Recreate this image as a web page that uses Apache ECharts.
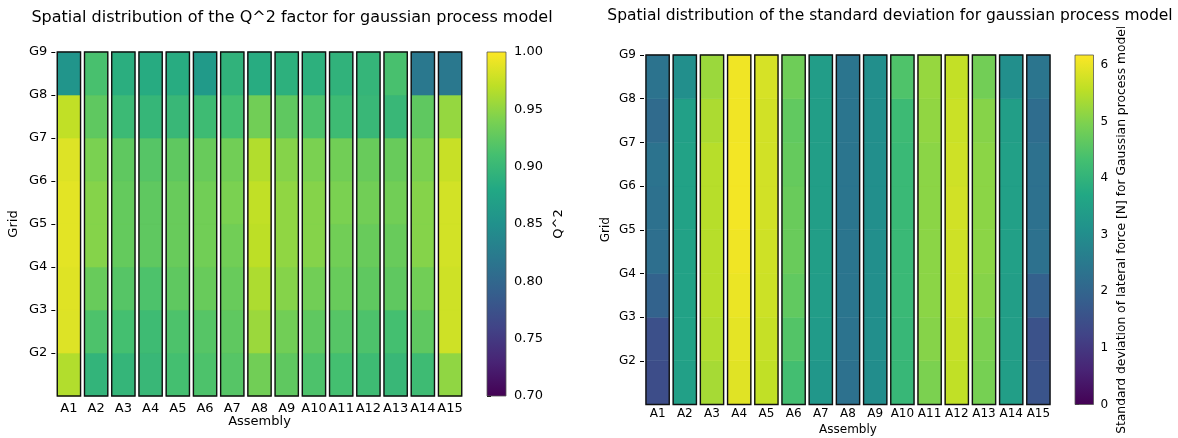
<!DOCTYPE html>
<html>
<head>
<meta charset="utf-8">
<script src="https://cdn.jsdelivr.net/npm/echarts@6/dist/echarts.min.js"></script>
<style>
html,body{margin:0;padding:0;background:#fff;}
#chart{width:1178px;height:438px;}
</style>
</head>
<body>
<div id="chart"></div>
<script>
// ---------- data ----------
const assemblies = ['A1','A2','A3','A4','A5','A6','A7','A8','A9','A10','A11','A12','A13','A14','A15'];
const gridLevels = [2,3,4,5,6,7,8,9];           // tick positions, labelled G2..G9
// values per assembly, from the bottom cell (G1-G2) to the top cell (G8-G9)
const q2Values = [
  [0.965,0.985,0.986,0.988,0.988,0.985,0.972,0.855],
  [0.895,0.915,0.930,0.945,0.945,0.940,0.925,0.912],
  [0.897,0.910,0.920,0.928,0.928,0.925,0.903,0.888],
  [0.900,0.905,0.915,0.925,0.925,0.920,0.898,0.884],
  [0.910,0.915,0.925,0.930,0.930,0.925,0.900,0.885],
  [0.915,0.920,0.930,0.935,0.935,0.930,0.905,0.862],
  [0.920,0.925,0.930,0.935,0.940,0.935,0.910,0.893],
  [0.935,0.955,0.963,0.970,0.972,0.965,0.935,0.885],
  [0.925,0.935,0.945,0.950,0.950,0.945,0.925,0.890],
  [0.915,0.925,0.935,0.945,0.945,0.940,0.915,0.890],
  [0.910,0.920,0.930,0.935,0.940,0.935,0.905,0.893],
  [0.905,0.915,0.925,0.930,0.935,0.930,0.900,0.897],
  [0.900,0.910,0.925,0.930,0.935,0.930,0.900,0.912],
  [0.905,0.925,0.935,0.945,0.945,0.940,0.925,0.820],
  [0.950,0.978,0.978,0.980,0.980,0.975,0.952,0.820]
];
const stdValues = [
  [1.45,1.50,1.95,2.25,2.30,2.35,2.15,2.35],
  [3.50,3.55,3.55,3.55,3.55,3.55,3.50,3.05],
  [5.35,5.45,5.50,5.50,5.50,5.50,5.40,5.25],
  [5.90,5.95,6.00,6.05,6.08,6.08,6.06,6.05],
  [5.60,5.65,5.70,5.72,5.75,5.75,5.75,5.80],
  [4.30,4.50,4.65,4.75,4.75,4.70,4.65,4.80],
  [3.25,3.35,3.40,3.45,3.45,3.45,3.45,3.40],
  [2.30,2.35,2.40,2.40,2.40,2.40,2.40,2.40],
  [3.00,3.05,3.05,3.05,3.05,3.05,3.05,3.05],
  [4.10,4.10,4.15,4.15,4.15,4.15,4.20,4.45],
  [4.95,5.05,5.10,5.10,5.10,5.10,5.15,5.20],
  [5.60,5.65,5.70,5.72,5.75,5.72,5.68,5.62],
  [4.90,4.95,5.05,5.10,5.10,5.10,5.05,4.85],
  [3.45,3.45,3.45,3.50,3.50,3.50,3.45,3.05],
  [1.60,1.55,1.90,2.30,2.30,2.30,2.20,2.40]
];
const q2Ticks = [0.70,0.75,0.80,0.85,0.90,0.95,1.00];
const stdTicks = [0,1,2,3,4,5,6];
const q2Range = [0.70, 1.00];
const stdRange = [0, 6.177];

// ---------- helpers ----------
const viridis = ['#440154','#482475','#414487','#355f8d','#2a788e','#21918c','#22a884','#44bf70','#7ad151','#bddf26','#fde725'];
const FONT = 'DejaVu Sans';

function cells(values){
  const out = [];
  values.forEach((col, a) => col.forEach((v, r) => out.push([a, r + 1, v])));
  return out;
}
const BAR_RATIO = 0.855;
function cellItem(params, api){
  const a = api.value(0), r = api.value(1);
  const p0 = api.coord([a, r]);
  const p1 = api.coord([a, r + 1]);
  const bw = api.size([1, 0])[0] * BAR_RATIO;
  const c = api.visual('color');
  return {type:'rect', shape:{x:p0[0]-bw/2, y:p1[1], width:bw, height:p0[1]-p1[1]},
          style:{fill:c, stroke:c, lineWidth:0.6}};
}
function outlineItem(params, api){
  const a = api.value(0);
  const p0 = api.coord([a, 1]);
  const p1 = api.coord([a, 9]);
  const bw = api.size([1, 0])[0] * BAR_RATIO;
  return {type:'rect', z2:10, shape:{x:p0[0]-bw/2, y:p1[1], width:bw, height:p0[1]-p1[1]},
          style:{fill:null, stroke:'#111', lineWidth:1.4}};
}
function colorbarItem(params, api){
  const p0 = api.coord([0, api.value(1)]);
  const p1 = api.coord([1, api.value(2)]);
  const stops = viridis.map((c, i) => ({offset: 1 - i/(viridis.length-1), color: c})).reverse();
  return {type:'rect', shape:{x:p0[0], y:p1[1], width:p1[0]-p0[0], height:p0[1]-p1[1]},
          style:{fill:new echarts.graphic.LinearGradient(0,0,0,1,stops), stroke:'#555', lineWidth:0.8}};
}

const chart = echarts.init(document.getElementById('chart'), null, {renderer:'canvas'});

function catAxis(gi, fs, margin, nameGap){
  return {type:'category', gridIndex:gi, data:assemblies, boundaryGap:true,
    axisLine:{show:false}, axisTick:{show:false},
    axisLabel:{interval:0, fontFamily:FONT, fontSize:fs, color:'#000', margin:margin},
    name:'Assembly', nameLocation:'middle', nameGap:nameGap, nameMoveOverlap:false,
    nameTextStyle:{fontFamily:FONT, fontSize:fs, color:'#000'}};
}
function gridAxis(gi, fs, nameGap){
  return {type:'value', gridIndex:gi, min:1, max:9, splitLine:{show:false},
    axisLine:{show:false},
    axisTick:{show:true, length:4, customValues:gridLevels, lineStyle:{color:'#000', width:1}},
    axisLabel:{customValues:gridLevels, formatter:v => 'G' + v, fontFamily:FONT, fontSize:fs, color:'#000', margin:8},
    name:'Grid', nameLocation:'middle', nameGap:nameGap, nameRotate:90,
    nameTextStyle:{fontFamily:FONT, fontSize:fs, color:'#000'}};
}
function cbAxis(gi, range, ticks, fmt, fs, name, nameFs, nameGap, margin){
  return {type:'value', gridIndex:gi, min:range[0], max:range[1], position:'right',
    splitLine:{show:false}, axisLine:{show:false},
    axisTick:{show:true, length:4, customValues:ticks, lineStyle:{color:'#000', width:1}},
    axisLabel:{customValues:ticks, formatter:fmt, fontFamily:FONT, fontSize:fs, color:'#000', margin:margin},
    name:name, nameLocation:'middle', nameGap:nameGap, nameRotate:90,
    nameTextStyle:{fontFamily:FONT, fontSize:nameFs, color:'#000'}};
}
function hiddenX(gi){
  return {type:'value', gridIndex:gi, min:0, max:1, show:false};
}

const option = {
  backgroundColor:'#fff',
  animation:false,
  title:[
    {text:'Spatial distribution of the Q^2 factor for gaussian process model', left:287, top:5, textAlign:'center',
     textStyle:{fontFamily:FONT, fontSize:16, fontWeight:'normal', color:'#000'}},
    {text:'Spatial distribution of the standard deviation for gaussian process model', left:885, top:2, textAlign:'center',
     backgroundColor:'#fff', padding:[6,5,3,5], z:20,
     textStyle:{fontFamily:FONT, fontSize:15.5, fontWeight:'normal', color:'#000'}}
  ],
  grid:[
    {left:55.3, top:52, width:408.4, height:344, outerBoundsMode:'none', containLabel:false},
    {left:487, top:52, width:19, height:344, outerBoundsMode:'none', containLabel:false},
    {left:644, top:55, width:408, height:349.5, outerBoundsMode:'none', containLabel:false},
    {left:1075, top:55, width:18.5, height:349.5, outerBoundsMode:'none', containLabel:false}
  ],
  xAxis:[catAxis(0,13,6,19.5), hiddenX(1), catAxis(2,12,3,19), hiddenX(3)],
  yAxis:[
    gridAxis(0,13,35),
    cbAxis(1, q2Range, q2Ticks, v => v.toFixed(2), 13, 'Q^2', 13, 46, 8),
    gridAxis(2,12,32),
    cbAxis(3, stdRange, stdTicks, v => String(v), 12, 'Standard deviation of lateral force [N] for Gaussian process model', 12.3, 22, 7)
  ],
  visualMap:[
    {type:'continuous', show:false, seriesIndex:0, dimension:2, min:q2Range[0], max:q2Range[1], inRange:{color:viridis}},
    {type:'continuous', show:false, seriesIndex:2, dimension:2, min:stdRange[0], max:stdRange[1], inRange:{color:viridis}}
  ],
  series:[
    {type:'custom', xAxisIndex:0, yAxisIndex:0, renderItem:cellItem, encode:{x:0, y:1}, data:cells(q2Values)},
    {type:'custom', xAxisIndex:0, yAxisIndex:0, renderItem:outlineItem, encode:{x:0}, data:assemblies.map((a,i)=>[i]), z:3},
    {type:'custom', xAxisIndex:2, yAxisIndex:2, renderItem:cellItem, encode:{x:0, y:1}, data:cells(stdValues)},
    {type:'custom', xAxisIndex:2, yAxisIndex:2, renderItem:outlineItem, encode:{x:0}, data:assemblies.map((a,i)=>[i]), z:3},
    {type:'custom', xAxisIndex:1, yAxisIndex:1, renderItem:colorbarItem, encode:{x:0, y:[1,2]}, data:[[0, q2Range[0], q2Range[1]]]},
    {type:'custom', xAxisIndex:3, yAxisIndex:3, renderItem:colorbarItem, encode:{x:0, y:[1,2]}, data:[[0, stdRange[0], stdRange[1]]]}
  ]
};
chart.setOption(option);
</script>
</body>
</html>
